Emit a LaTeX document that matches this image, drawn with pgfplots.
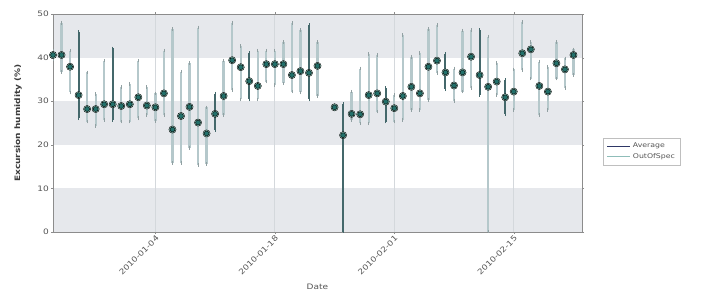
\documentclass[border=0pt]{standalone}
\usepackage{pgfplots}
\pgfplotsset{compat=1.18}
\usepackage{pgfplotstable}
\usepackage{fontspec}
\setmainfont{DejaVu Sans}[FakeStretch=1.2]
\definecolor{band}{HTML}{E6E8EC}
\definecolor{gridc}{HTML}{D4D8DC}
\definecolor{lightbar}{HTML}{B5C8CB}
\definecolor{darkbar}{HTML}{44686B}
\definecolor{dotc}{HTML}{22706A}
\definecolor{halo}{HTML}{A3DCCF}
\definecolor{avgc}{HTML}{2E3766}
\definecolor{oosc}{HTML}{8FBDB9}
\definecolor{txt}{HTML}{555555}

\pgfplotstableread{
x y ep em
0 40.6 0.9 0.9
1 40.6 7.4 3.9
2 37.9 3.7 5.9
4 28.2 8.4 2.9
5 28.2 3.4 3.9
6 29.3 10.0 3.6
8 28.9 4.4 3.6
9 29.3 4.6 4.0
10 30.9 8.4 4.8
11 29.0 4.3 2.2
12 28.6 3.2 3.1
13 31.8 9.8 5.0
14 23.5 23.0 7.7
15 26.6 10.2 10.8
16 28.7 10.0 9.4
17 25.1 21.8 9.7
18 22.6 6.0 7.0
20 31.2 8.1 4.4
21 39.4 8.6 6.8
22 37.8 4.9 7.4
24 33.5 8.1 3.1
25 38.5 3.1 4.0
26 38.5 3.1 4.8
27 38.5 5.1 4.4
28 36.0 11.9 3.8
29 36.9 9.4 4.9
31 38.1 5.5 6.9
33 28.6 0.5 0.5
35 27.1 5.1 1.4
36 27.0 10.5 2.1
37 31.4 9.4 6.5
38 31.8 8.8 4.2
40 28.4 3.0 3.1
41 31.2 14.0 5.5
42 33.3 6.9 5.3
43 31.8 9.2 3.8
44 37.9 8.6 7.6
45 39.3 8.2 2.8
47 33.6 3.9 3.5
48 36.6 9.6 4.4
49 40.2 6.1 7.2
51 33.3 11.5 33.3
52 34.5 4.2 3.1
54 32.2 5.1 4.2
55 41.0 7.2 3.8
56 41.9 1.7 6.7
57 33.5 5.6 6.7
58 32.2 5.7 4.2
59 38.7 4.9 3.5
60 37.3 2.5 4.3
61 40.6 1.3 4.6
}\lighttab

\pgfplotstableread{
x y ep em
3 31.4 14.5 5.3
7 29.3 12.8 3.6
19 27.1 4.6 3.7
23 34.6 6.4 4.2
30 36.5 11.0 6.1
34 22.2 7.2 22.2
39 29.9 3.1 4.6
46 36.6 4.2 3.9
50 36.0 10.3 4.6
53 30.9 4.0 3.8
}\darktab

\begin{document}
\begin{tikzpicture}
\begin{axis}[
  at={(53pt,63pt)}, anchor=south west,
  scale only axis, width=529pt, height=218pt,
  xmin=0, xmax=62, ymin=0, ymax=50,
  set layers,
  xtick={12,26,40,54},
  xticklabels={2010-01-04,2010-01-18,2010-02-01,2010-02-15},
  ytick={0,10,20,30,40,50},
  xmajorgrids,
  grid style={gridc, line width=0.8pt},
  axis line style={draw=black!45, line width=1pt},
  tick style={draw=black!45},
  major tick length=2pt,
  tick align=outside,
  /pgf/number format/assume math mode=true,
  ticklabel style={font=\fontsize{7.5}{9}\selectfont, text=txt},
  xticklabel style={rotate=45, anchor=north east, inner sep=0.5pt},
  yticklabel style={inner sep=2pt},
  xlabel={Date},
  xlabel style={font=\fontsize{7.5}{9}\selectfont, text=txt, at={(axis description cs:0.5,0)}, anchor=north, yshift=-48pt},
  ylabel={\textbf{Excursion humidity (\%)}},
  ylabel style={font=\fontsize{7.5}{9}\selectfont, text=txt!70!black, at={(axis description cs:-0.066,0.5)}, anchor=center},
  legend style={at={(1.040,0.431)}, anchor=north west, draw=black!25,
    font=\fontsize{6.5}{8}\selectfont, text=txt, inner sep=3pt, row sep=0pt},
  legend cell align=left,
  legend image code/.code={\draw[#1] (0pt,0pt) -- (23pt,0pt);},
]
\begin{pgfonlayer}{axis background}
\fill[band] (axis cs:0,0) rectangle (axis cs:62,10);
\fill[band] (axis cs:0,20) rectangle (axis cs:62,30);
\fill[band] (axis cs:0,40) rectangle (axis cs:62,50);
\end{pgfonlayer}

\addplot[forget plot, only marks, mark=none,
  error bars/.cd, y dir=both, y explicit,
  error bar style={lightbar, line width=2.3pt},
  error mark options={lightbar!80!black, line width=0.8pt, mark size=1.8pt}]
  table[x=x, y=y, y error plus=ep, y error minus=em]{\lighttab};
\addplot[forget plot, only marks, mark=none,
  error bars/.cd, y dir=both, y explicit,
  error bar style={darkbar, line width=2pt},
  error mark options={darkbar, line width=0.8pt, mark size=1.8pt}]
  table[x=x, y=y, y error plus=ep, y error minus=em]{\darktab};

\addplot[forget plot, only marks, mark=*, mark size=3.6pt,
  mark options={draw=none, fill=halo}]
  table[x=x, y=y]{\lighttab};
\addplot[forget plot, only marks, mark=*, mark size=3.6pt,
  mark options={draw=none, fill=halo}]
  table[x=x, y=y]{\darktab};
\addplot[forget plot, only marks, mark=*, mark size=2.5pt,
  mark options={draw=none, fill=dotc}]
  table[x=x, y=y]{\lighttab};
\addplot[forget plot, only marks, mark=*, mark size=2.5pt,
  mark options={draw=none, fill=dotc}]
  table[x=x, y=y]{\darktab};

\addlegendimage{avgc, line width=1.5pt}
\addlegendentry{Average}
\addlegendimage{oosc, line width=1.5pt}
\addlegendentry{OutOfSpec}
\end{axis}
\path (0,0) (711pt,295pt);
\end{tikzpicture}
\end{document}
